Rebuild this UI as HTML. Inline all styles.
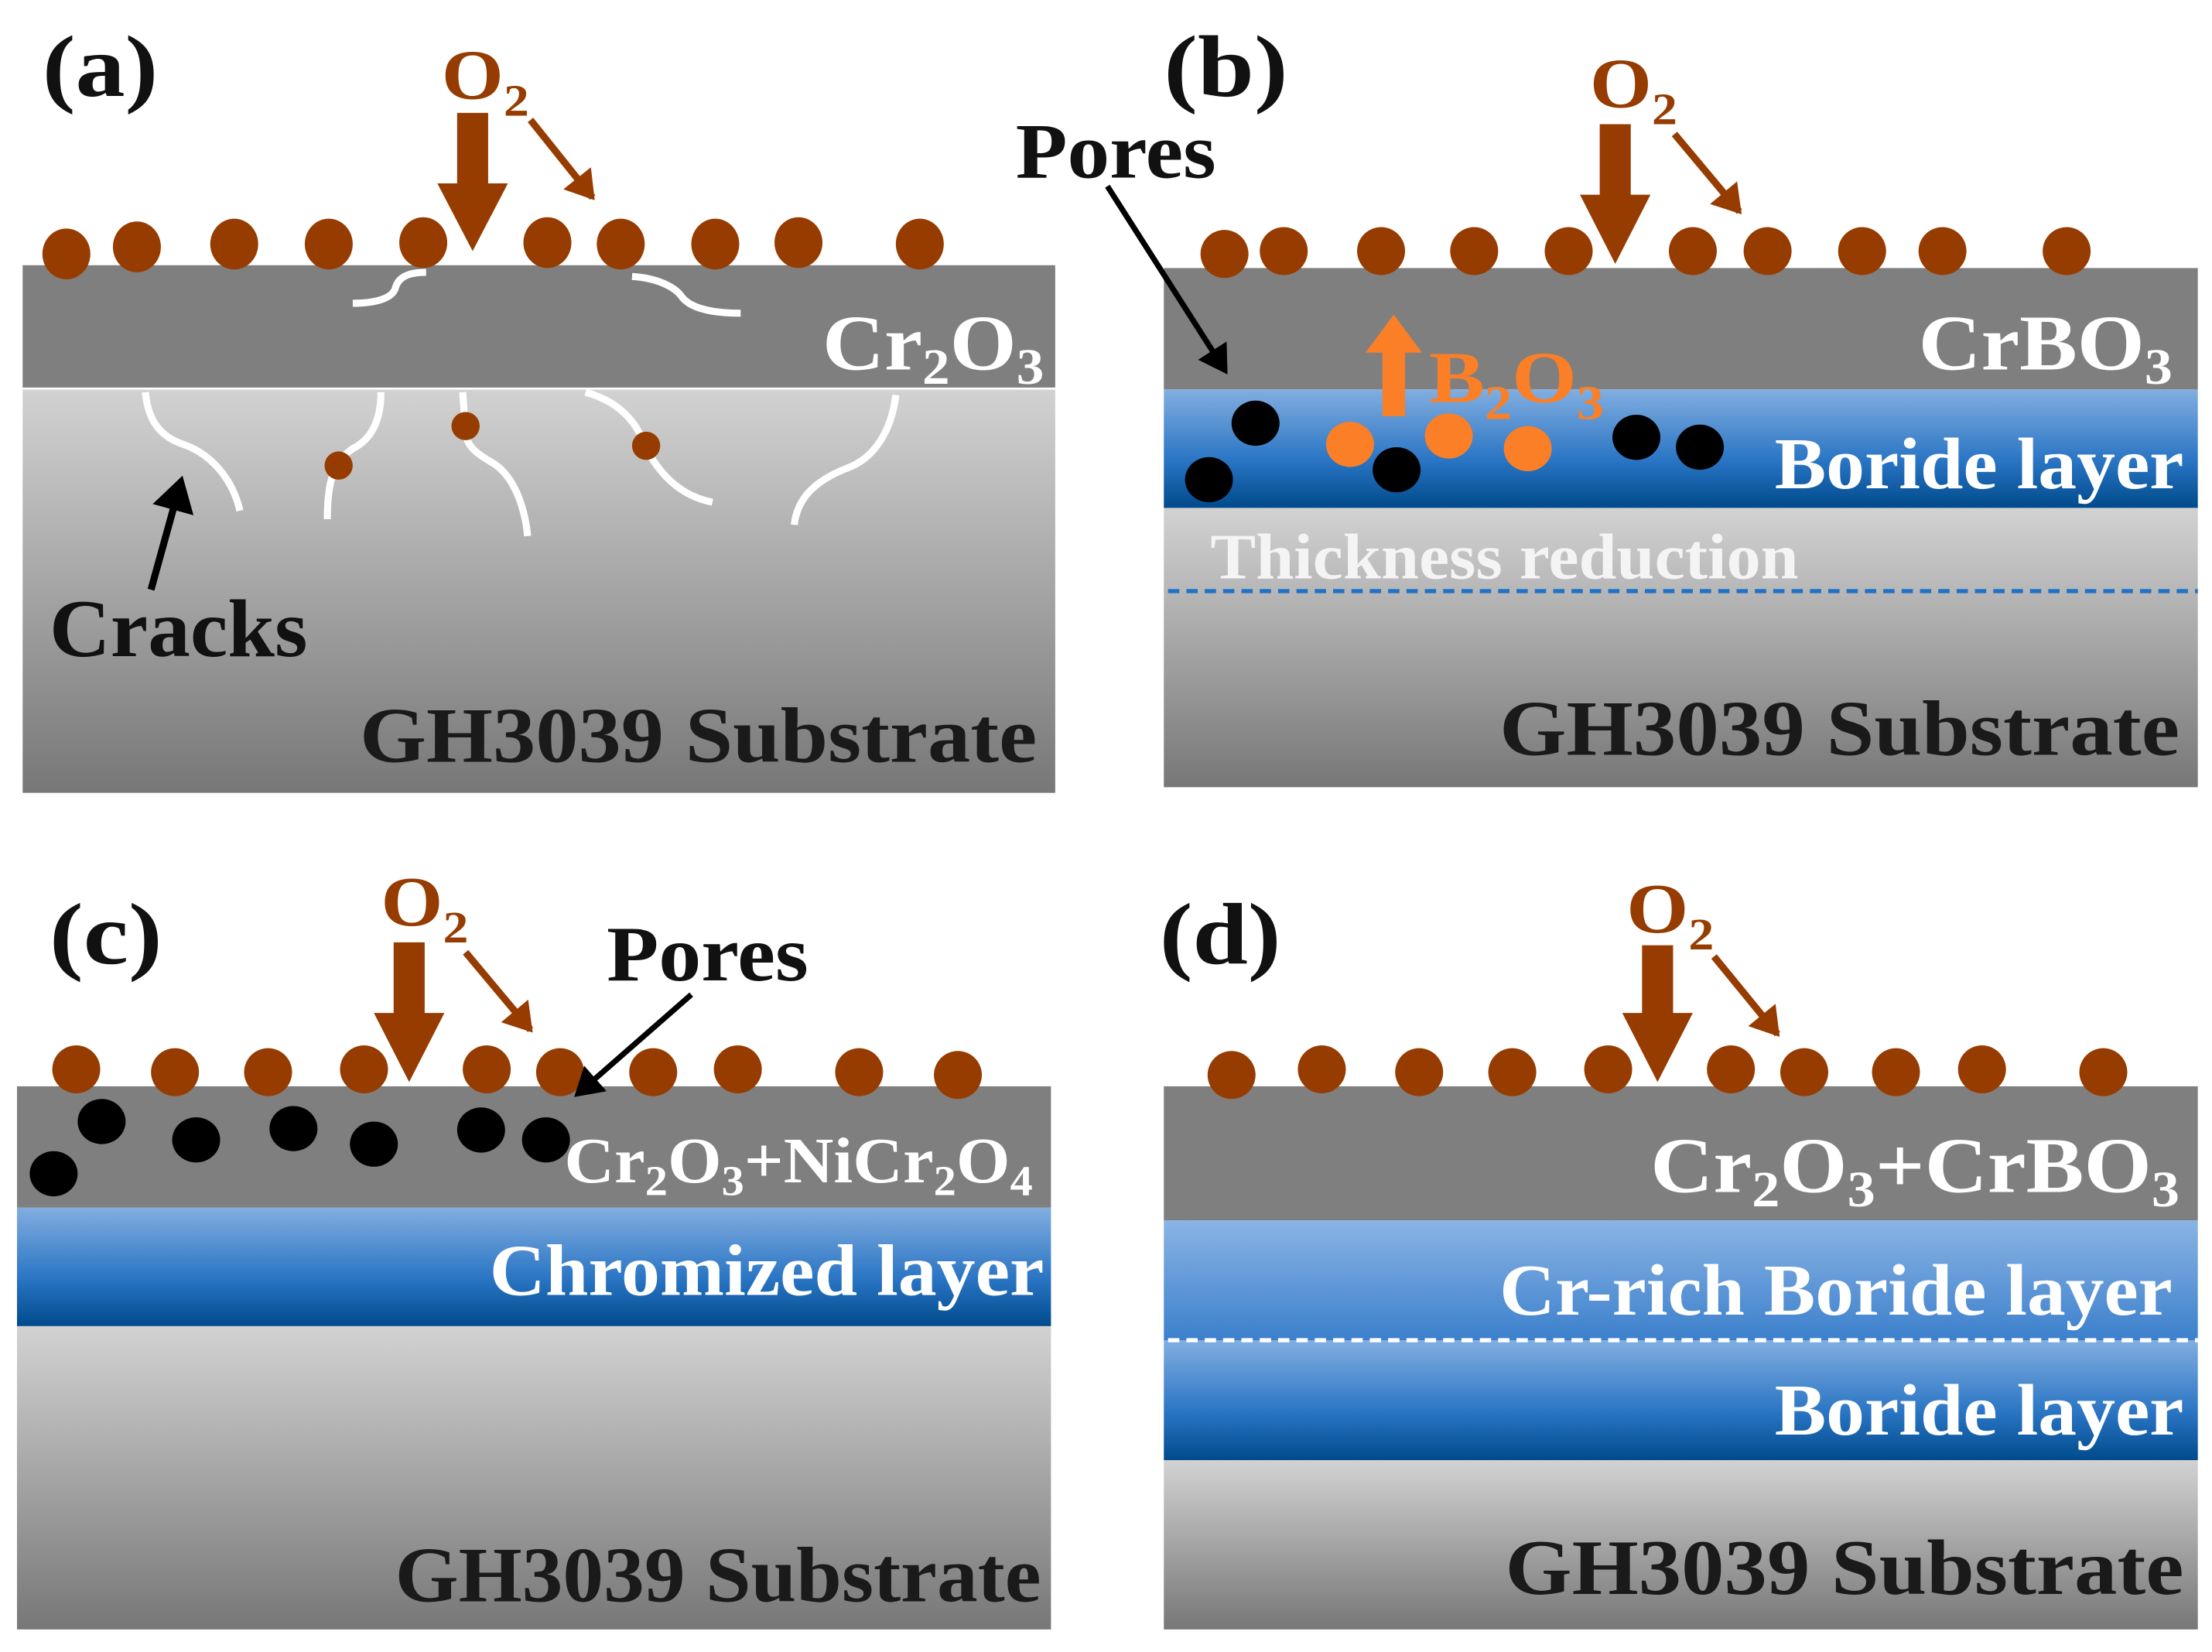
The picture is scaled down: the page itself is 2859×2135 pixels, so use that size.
<!DOCTYPE html>
<html><head><meta charset="utf-8"><style>
html,body{margin:0;padding:0;background:#fff;}
svg{display:block;}
text{font-family:"Liberation Serif",serif;font-weight:bold;}
</style></head><body>
<svg width="2859" height="2135" viewBox="0 0 1568 1171" xmlns="http://www.w3.org/2000/svg">
<defs>
<linearGradient id="sub" x1="0" y1="0" x2="0" y2="1"><stop offset="0" stop-color="#d2d2d2"/><stop offset="1" stop-color="#777"/></linearGradient>
<linearGradient id="blue" x1="0" y1="0" x2="0" y2="1"><stop offset="0" stop-color="#82aee0"/><stop offset="0.6" stop-color="#2a75c4"/><stop offset="1" stop-color="#004a8c"/></linearGradient>
<linearGradient id="lblue" x1="0" y1="0" x2="0" y2="1"><stop offset="0" stop-color="#8ab4e4"/><stop offset="1" stop-color="#3c80cc"/></linearGradient>
<marker id="ab" markerWidth="6" markerHeight="6" refX="4" refY="3" orient="auto" markerUnits="strokeWidth"><path d="M0,0 L5,3 L0,6 Z" fill="#000"/></marker>
<marker id="ar" markerWidth="5" markerHeight="5" refX="3.5" refY="2.5" orient="auto" markerUnits="strokeWidth"><path d="M0,0 L4,2.5 L0,5 Z" fill="#963c00"/></marker>
</defs>

<!-- Panel a -->
<rect x="16" y="275" width="732" height="287" fill="url(#sub)"/>
<rect x="16" y="188" width="732" height="87" fill="#7f7f7f"/>
<line x1="16" y1="275.5" x2="748" y2="275.5" stroke="#fff" stroke-width="1.5"/>
<g fill="none" stroke="#fff" stroke-width="5">
<path d="M103,278 C105,300 115,310 130,315 C150,322 165,340 170,362"/>
<path d="M270,278 C270,300 262,312 250,318 C235,328 232,345 232,368"/>
<path d="M328,278 L330,308 C332,320 345,325 352,330 C365,340 372,360 374,380"/>
<path d="M415,278 C440,285 452,300 458,318 C470,340 485,352 505,356"/>
<path d="M635,280 C632,305 620,325 600,332 C575,342 565,355 563,372"/>
<path d="M302,193 C290,193 282,196 280,205 C277,212 265,215 250,215"/>
<path d="M448,196 C465,197 478,203 483,210 C490,220 510,222 525,222"/>
</g>
<g fill="#963c00">
<ellipse cx="240" cy="330" rx="10" ry="10"/><ellipse cx="330" cy="302" rx="10" ry="10"/><ellipse cx="458" cy="316" rx="10" ry="10"/>
</g>
<g fill="#963c00">
<ellipse cx="47" cy="180" rx="17" ry="18"/><ellipse cx="97" cy="175" rx="17" ry="18"/><ellipse cx="166" cy="173" rx="17" ry="18"/><ellipse cx="233" cy="173" rx="17" ry="18"/><ellipse cx="300" cy="172" rx="17" ry="18"/><ellipse cx="388" cy="172" rx="17" ry="18"/><ellipse cx="440" cy="173" rx="17" ry="18"/><ellipse cx="507" cy="173" rx="17" ry="18"/><ellipse cx="566" cy="172" rx="17" ry="18"/><ellipse cx="652" cy="173" rx="17" ry="18"/>
<path d="M324,80 H346 V130 H360 L335,178 L310,130 H324 Z"/>
</g>
<line x1="376" y1="85" x2="420" y2="140" stroke="#963c00" stroke-width="5" marker-end="url(#ar)"/>
<text x="313" y="70" font-size="50" fill="#963c00" textLength="62" lengthAdjust="spacingAndGlyphs">O<tspan font-size="32" dy="12">2</tspan></text>
<text x="30" y="68" font-size="62" fill="#111" textLength="82" lengthAdjust="spacingAndGlyphs">(a)</text>
<text x="583" y="262" font-size="56" fill="#fff" textLength="157" lengthAdjust="spacingAndGlyphs">Cr<tspan font-size="36" dy="10">2</tspan><tspan dy="-10">O</tspan><tspan font-size="36" dy="10">3</tspan></text>
<line x1="107" y1="418" x2="128" y2="342" stroke="#000" stroke-width="5" marker-end="url(#ab)"/>
<text x="35" y="465" font-size="58" fill="#111" textLength="183" lengthAdjust="spacingAndGlyphs">Cracks</text>
<text x="255" y="540" font-size="56" fill="#1a1a1a" textLength="480" lengthAdjust="spacingAndGlyphs">GH3039 Substrate</text>

<!-- Panel b -->
<rect x="825" y="360" width="733" height="198" fill="url(#sub)"/>
<rect x="825" y="276" width="733" height="84" fill="url(#blue)"/>
<rect x="825" y="190" width="733" height="86" fill="#7f7f7f"/>
<line x1="828" y1="419" x2="1558" y2="419" stroke="#1f72c8" stroke-width="3" stroke-dasharray="8,5"/>
<g fill="#000">
<ellipse cx="890" cy="300" rx="17" ry="16"/><ellipse cx="857" cy="340" rx="17" ry="16"/><ellipse cx="990" cy="333" rx="17" ry="16"/><ellipse cx="1160" cy="310" rx="17" ry="16"/><ellipse cx="1205" cy="317" rx="17" ry="16"/>
</g>
<g fill="#fb7f26">
<ellipse cx="957" cy="315" rx="17" ry="16"/><ellipse cx="1027" cy="309" rx="17" ry="16"/><ellipse cx="1083" cy="318" rx="17" ry="16"/>
<path d="M980,295 H996 V250 H1008 L988,223 L968,250 H980 Z"/>
</g>
<text x="1013" y="285" font-size="52" fill="#fb7f26" textLength="124" lengthAdjust="spacingAndGlyphs">B<tspan font-size="34" dy="12">2</tspan><tspan dy="-12">O</tspan><tspan font-size="34" dy="12">3</tspan></text>
<g fill="#963c00">
<ellipse cx="868" cy="180" rx="17" ry="17"/><ellipse cx="910" cy="178" rx="17" ry="17"/><ellipse cx="979" cy="178" rx="17" ry="17"/><ellipse cx="1045" cy="178" rx="17" ry="17"/><ellipse cx="1112" cy="178" rx="17" ry="17"/><ellipse cx="1200" cy="178" rx="17" ry="17"/><ellipse cx="1253" cy="178" rx="17" ry="17"/><ellipse cx="1320" cy="178" rx="17" ry="17"/><ellipse cx="1377" cy="178" rx="17" ry="17"/><ellipse cx="1465" cy="178" rx="17" ry="17"/>
<path d="M1134,88 H1156 V138 H1170 L1145,187 L1120,138 H1134 Z"/>
</g>
<line x1="1187" y1="95" x2="1233" y2="150" stroke="#963c00" stroke-width="5" marker-end="url(#ar)"/>
<text x="1127" y="76" font-size="50" fill="#963c00" textLength="62" lengthAdjust="spacingAndGlyphs">O<tspan font-size="32" dy="12">2</tspan></text>
<text x="825" y="68" font-size="62" fill="#111" textLength="88" lengthAdjust="spacingAndGlyphs">(b)</text>
<text x="720" y="126" font-size="56" fill="#111" textLength="142" lengthAdjust="spacingAndGlyphs">Pores</text>
<line x1="785" y1="132" x2="868" y2="262" stroke="#000" stroke-width="4" marker-end="url(#ab)"/>
<text x="1360" y="262" font-size="56" fill="#fff" textLength="180" lengthAdjust="spacingAndGlyphs">CrBO<tspan font-size="36" dy="10">3</tspan></text>
<text x="1258" y="346" font-size="52" fill="#fff" textLength="290" lengthAdjust="spacingAndGlyphs">Boride layer</text>
<text x="858" y="410" font-size="46" fill="#f4f4f4" textLength="417" lengthAdjust="spacingAndGlyphs">Thickness reduction</text>
<text x="1063" y="535" font-size="56" fill="#1a1a1a" textLength="482" lengthAdjust="spacingAndGlyphs">GH3039 Substrate</text>

<!-- Panel c -->
<rect x="12" y="940" width="733" height="215" fill="url(#sub)"/>
<rect x="12" y="856" width="733" height="84" fill="url(#blue)"/>
<rect x="12" y="770" width="733" height="86" fill="#7f7f7f"/>
<g fill="#000">
<ellipse cx="72" cy="795" rx="17" ry="16"/><ellipse cx="38" cy="832" rx="17" ry="16"/><ellipse cx="139" cy="808" rx="17" ry="16"/><ellipse cx="208" cy="800" rx="17" ry="16"/><ellipse cx="265" cy="811" rx="17" ry="16"/><ellipse cx="341" cy="801" rx="17" ry="16"/><ellipse cx="387" cy="808" rx="17" ry="16"/>
</g>
<g fill="#963c00">
<ellipse cx="54" cy="758" rx="17" ry="17"/><ellipse cx="124" cy="760" rx="17" ry="17"/><ellipse cx="190" cy="760" rx="17" ry="17"/><ellipse cx="258" cy="758" rx="17" ry="17"/><ellipse cx="345" cy="758" rx="17" ry="17"/><ellipse cx="397" cy="760" rx="17" ry="17"/><ellipse cx="463" cy="760" rx="17" ry="17"/><ellipse cx="523" cy="758" rx="17" ry="17"/><ellipse cx="609" cy="760" rx="17" ry="17"/><ellipse cx="679" cy="762" rx="17" ry="17"/>
<path d="M279,668 H301 V718 H315 L290,767 L265,718 H279 Z"/>
</g>
<line x1="330" y1="675" x2="376" y2="730" stroke="#963c00" stroke-width="5" marker-end="url(#ar)"/>
<text x="270" y="656" font-size="50" fill="#963c00" textLength="62" lengthAdjust="spacingAndGlyphs">O<tspan font-size="32" dy="12">2</tspan></text>
<text x="35" y="683" font-size="62" fill="#111" textLength="80" lengthAdjust="spacingAndGlyphs">(c)</text>
<text x="430" y="695" font-size="56" fill="#111" textLength="143" lengthAdjust="spacingAndGlyphs">Pores</text>
<line x1="490" y1="705" x2="410" y2="775" stroke="#000" stroke-width="4" marker-end="url(#ab)"/>
<text x="400" y="838" font-size="46" fill="#fff" textLength="332" lengthAdjust="spacingAndGlyphs">Cr<tspan font-size="30" dy="9">2</tspan><tspan dy="-9">O</tspan><tspan font-size="30" dy="9">3</tspan><tspan dy="-9">+NiCr</tspan><tspan font-size="30" dy="9">2</tspan><tspan dy="-9">O</tspan><tspan font-size="30" dy="9">4</tspan></text>
<text x="347" y="918" font-size="52" fill="#fff" textLength="393" lengthAdjust="spacingAndGlyphs">Chromized layer</text>
<text x="280" y="1135" font-size="56" fill="#1a1a1a" textLength="458" lengthAdjust="spacingAndGlyphs">GH3039 Substrate</text>

<!-- Panel d -->
<rect x="825" y="1035" width="733" height="120" fill="url(#sub)"/>
<rect x="825" y="950" width="733" height="85" fill="url(#blue)"/>
<rect x="825" y="865" width="733" height="85" fill="url(#lblue)"/>
<rect x="825" y="770" width="733" height="95" fill="#7f7f7f"/>
<line x1="828" y1="950" x2="1558" y2="950" stroke="#fff" stroke-width="3" stroke-dasharray="8,5"/>
<g fill="#963c00">
<ellipse cx="873" cy="762" rx="17" ry="17"/><ellipse cx="937" cy="758" rx="17" ry="17"/><ellipse cx="1006" cy="760" rx="17" ry="17"/><ellipse cx="1072" cy="760" rx="17" ry="17"/><ellipse cx="1140" cy="758" rx="17" ry="17"/><ellipse cx="1227" cy="758" rx="17" ry="17"/><ellipse cx="1279" cy="760" rx="17" ry="17"/><ellipse cx="1344" cy="760" rx="17" ry="17"/><ellipse cx="1405" cy="758" rx="17" ry="17"/><ellipse cx="1491" cy="760" rx="17" ry="17"/>
<path d="M1164,670 H1186 V718 H1200 L1175,767 L1150,718 H1164 Z"/>
</g>
<line x1="1215" y1="678" x2="1260" y2="733" stroke="#963c00" stroke-width="5" marker-end="url(#ar)"/>
<text x="1153" y="661" font-size="50" fill="#963c00" textLength="62" lengthAdjust="spacingAndGlyphs">O<tspan font-size="32" dy="12">2</tspan></text>
<text x="822" y="683" font-size="62" fill="#111" textLength="86" lengthAdjust="spacingAndGlyphs">(d)</text>
<text x="1170" y="845" font-size="56" fill="#fff" textLength="375" lengthAdjust="spacingAndGlyphs">Cr<tspan font-size="36" dy="10">2</tspan><tspan dy="-10">O</tspan><tspan font-size="36" dy="10">3</tspan><tspan dy="-10">+CrBO</tspan><tspan font-size="36" dy="10">3</tspan></text>
<text x="1063" y="932" font-size="52" fill="#fff" textLength="477" lengthAdjust="spacingAndGlyphs">Cr-rich Boride layer</text>
<text x="1258" y="1017" font-size="52" fill="#fff" textLength="290" lengthAdjust="spacingAndGlyphs">Boride layer</text>
<text x="1067" y="1130" font-size="56" fill="#1a1a1a" textLength="481" lengthAdjust="spacingAndGlyphs">GH3039 Substrate</text>
</svg>
</body></html>
